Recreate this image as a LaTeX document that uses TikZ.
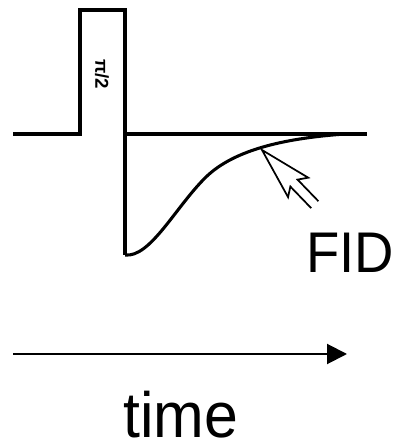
\documentclass[tikz,border=0pt]{standalone}
\usepackage{fontspec}
\setmainfont{Liberation Sans}
\usetikzlibrary{arrows.meta, positioning}

\tikzset{
  wave/.style={line width=2.3pt, line join=miter},
  biglabel/.style={inner sep=0pt, xscale=0.95},
  hollowarrow/.style={line width=1.3pt, fill=white, line join=miter},
}

\begin{document}
\begin{tikzpicture}[x=0.75pt, y=0.75pt]
    \useasboundingbox (0,0) rectangle (401,448);

    % pulse and baseline
    \coordinate (start) at (13,314);
    \coordinate (pulseup) at (80,314);
    \coordinate (pulsetop) at (125,438);
    \coordinate (drop) at (125,193);
    \draw[wave] (start) -- (pulseup) |- (pulsetop) -- (drop);
    \draw[wave] (125,314) -- (367,314);
    \node[rotate=-90, inner sep=0pt, font=\fontsize{14}{14}\bfseries\selectfont] (angle) at (102,374) {π/2};

    % decay of the signal
    \draw[wave] (drop) .. controls (150,190) and (175,240) .. (205,270)
       .. controls (235,300) and (290,310) .. (345,314);
    \coordinate (fidtip) at (262,298);

    % label and its arrow
    \node[biglabel, anchor=base west, font=\fontsize{43}{43}\selectfont] (fid) at (306,175) {FID};
    \begin{scope}[shift={(fidtip)}, rotate=-46]
      \draw[hollowarrow] (76,5) -- (46,5) -- (52,14) -- (0,0) -- (52,-14) -- (46,-5) -- (76,-5);
    \end{scope}

    % time axis
    \coordinate (t0) at (13,94);
    \coordinate (t1) at (347,94);
    \draw[line width=1.5pt, -{Triangle[length=15pt, width=15pt]}] (t0) -- (t1);
    \node[biglabel, anchor=base, font=\fontsize{48}{48}\selectfont] (time) at (181,10) {time};
\end{tikzpicture}
\end{document}
